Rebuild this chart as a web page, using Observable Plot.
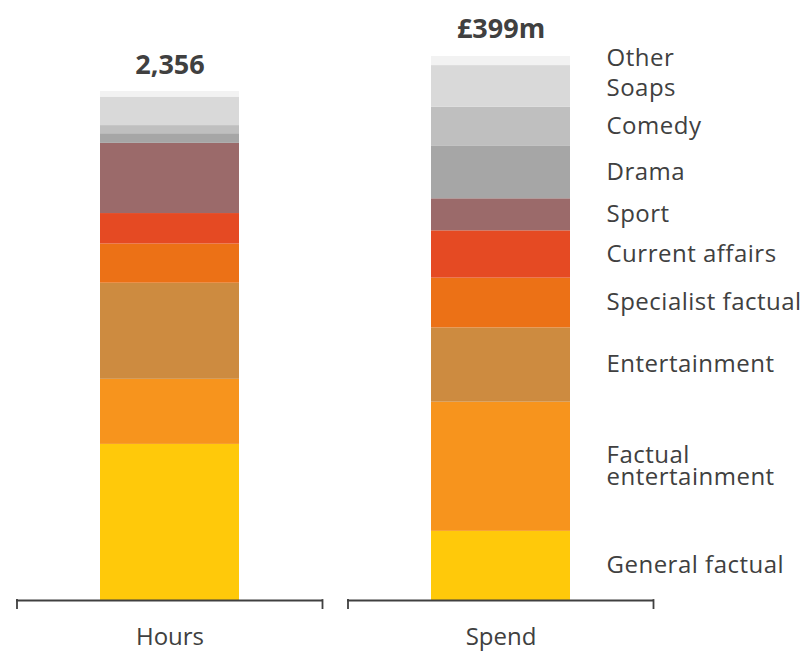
<!DOCTYPE html>
<html>
<head>
<meta charset="utf-8">
<script src="https://cdn.jsdelivr.net/npm/d3@7"></script>
<script src="https://cdn.jsdelivr.net/npm/@observablehq/plot@0.6"></script>
<style>
  html, body { margin: 0; padding: 0; background: #fff; }
  #chart svg { display: block; }
</style>
</head>
<body>
<div id="chart"></div>
<script>
// Categories (bars) and their totals
const categories = ["Hours", "Spend"];
const totalLabels = ["2,356", "£399m"];

// Genres, bottom to top
const genres = ["General factual", "Factual entertainment", "Entertainment", "Specialist factual",
  "Current affairs", "Sport", "Drama", "Comedy", "Soaps", "Other"];
const genreLabels = ["General factual", "Factual\nentertainment", "Entertainment", "Specialist factual",
  "Current affairs", "Sport", "Drama", "Comedy", "Soaps", "Other"];
const genreColors = ["#FFC90A", "#F7941D", "#CD8B40", "#EC7116", "#E54A23",
  "#9B6A6A", "#A6A6A6", "#BFBFBF", "#D9D9D9", "#F2F2F2"];

// Shares (common unit)
const hoursValues = [30.7, 12.8, 18.9, 7.7, 6.0, 13.8, 1.9, 1.6, 5.6, 1.1];
const spendValues = [13.6, 25.4, 14.6, 9.8, 9.3, 6.3, 10.3, 7.7, 8.2, 1.8];

const seriesValues = [hoursValues, spendValues];
const rows = [];
categories.forEach((c, ci) => genres.forEach((g, gi) =>
  rows.push({category: c, genre: g, label: genreLabels[gi], value: seriesValues[ci][gi]})));
const totals = categories.map((c, ci) => ({category: c, total: d3.sum(seriesValues[ci]), text: totalLabels[ci]}));

// Label positions beside the Spend bar: segment midpoints, nudged apart where they crowd
const minGap = 5.9;
let acc = 0;
const spendLabels = genres.map((g, gi) => {
  const mid = acc + spendValues[gi] / 2;
  acc += spendValues[gi];
  return {category: "Spend", label: genreLabels[gi], pos: mid};
});
for (let i = spendLabels.length - 1; i > 0; --i) {
  const gap = spendLabels[i].pos - spendLabels[i - 1].pos;
  if (gap < minGap) {
    const half = (minGap - gap) / 2;
    spendLabels[i].pos += half;
    spendLabels[i - 1].pos -= half;
  }
}

const ink = "#404040";

const chart = Plot.plot({
  width: 806,
  height: 651,
  marginTop: 0,
  marginBottom: 51,
  marginLeft: 16,
  marginRight: 153,
  style: {fontFamily: "'Open Sans', sans-serif", color: ink, background: "#fff", overflow: "visible"},
  x: {domain: categories, paddingInner: 0.581, paddingOuter: 0.25, label: null},
  y: {domain: [0, 118], axis: null},
  color: {domain: genres, range: genreColors},
  marks: [
    Plot.barY(rows, {x: "category", y: "value", fill: "genre", order: null}),
    // bracket under each bar
    Plot.ruleY(categories, {x1: d => d, x2: d => d, y: () => 0, insetLeft: -84, insetRight: -83, stroke: ink, strokeWidth: 1.8}),
    Plot.ruleX(categories, {x: d => d, y1: () => 0, y2: () => 0, insetTop: -0.9, insetBottom: -9, dx: -153, stroke: ink, strokeWidth: 1.8}),
    Plot.ruleX(categories, {x: d => d, y1: () => 0, y2: () => 0, insetTop: -0.9, insetBottom: -9, dx: 152.5, stroke: ink, strokeWidth: 1.8}),
    // totals
    Plot.text(totals, {x: "category", y: "total", text: "text", dy: -18, lineAnchor: "bottom",
      fontSize: 27, fontWeight: "bold", fill: ink}),
    // genre labels beside the Spend bar
    Plot.text(spendLabels, {x: "category", y: "pos", text: "label",
      textAnchor: "start", dx: 105.5, fontSize: 24, lineHeight: 0.95, fill: ink}),
    Plot.axisX({tickSize: 0, tickPadding: 27, fontSize: 24, label: null, fill: ink})
  ]
});
// widen the genre labels' tracking slightly to match the reference
d3.select(chart).selectAll('g[aria-label="text"]')
  .filter((d, i) => i === 1)
  .style("letter-spacing", "0.5px");
document.getElementById("chart").append(chart);
</script>
</body>
</html>
